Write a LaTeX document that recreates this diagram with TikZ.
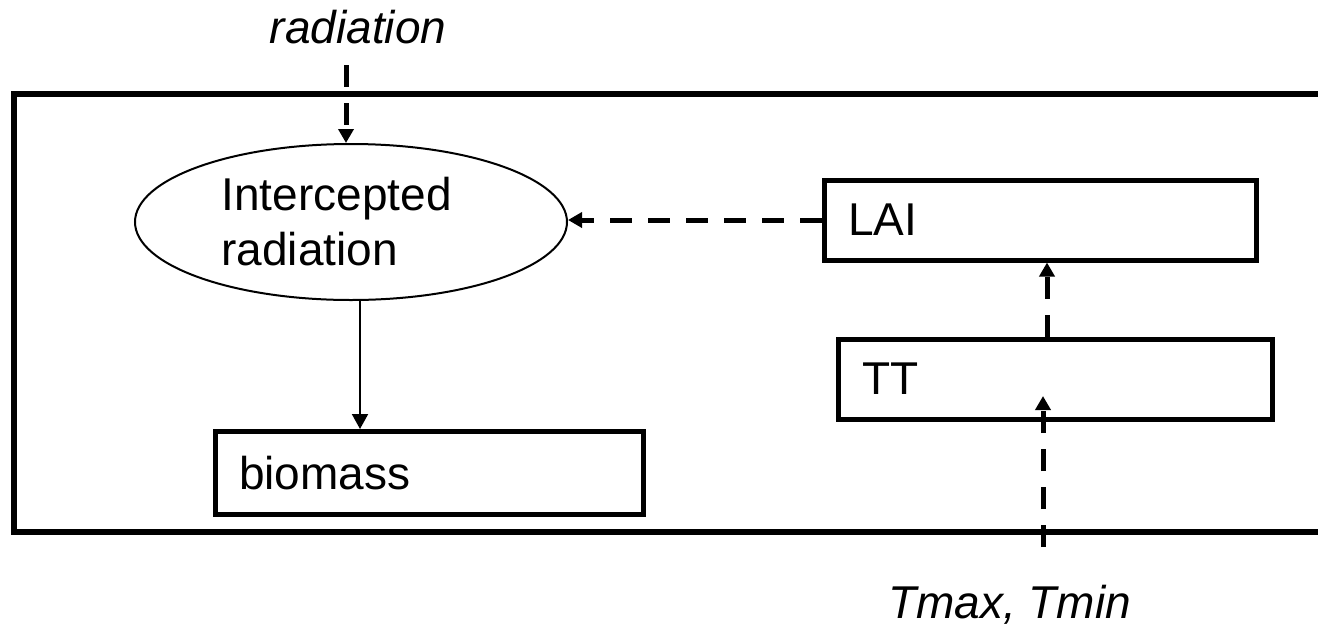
\documentclass[tikz,border=0pt]{standalone}
\usepackage{fontspec}
\setmainfont{Liberation Sans}
\usetikzlibrary{arrows.meta,shapes.geometric}
\begin{document}
\begin{tikzpicture}[x=1pt,y=-1pt,
  bigfont/.style={font=\fontsize{46}{55}\selectfont},
  boxnode/.style={draw, line width=5pt, inner xsep=24pt, inner ysep=0pt, minimum height=80pt, align=left, bigfont},
  dasharrow/.style={line width=5pt, dash pattern=on 22pt off 16pt, -{Triangle[width=15pt,length=14pt]}},
  thinarrow/.style={line width=2pt, -{Triangle[width=16pt,length=15pt]}}
]
\useasboundingbox (0,0) rectangle (1318,630);
\clip (0,0) rectangle (1318,630);
\fill[white] (0,0) rectangle (1318,630);
% outer frame
\draw[line width=6pt] (14,94) rectangle (1360,532);
% nodes
\node[ellipse, draw, line width=2pt, minimum width=432pt, minimum height=156pt, inner sep=0pt, text width=259pt, align=left, bigfont] (ell) at (351,222) {Intercepted\\radiation};
\node[boxnode, text width=384pt] (lai) at (1040,220) {LAI};
\node[boxnode, text width=386pt] (tt) at (1055,379) {TT};
\node[boxnode, text width=380pt, minimum height=83pt] (bio) at (429,473) {biomass};
\node[bigfont, anchor=base, inner sep=0pt] (rad) at (358,43) {\itshape radiation};
\node[bigfont, anchor=base west, inner sep=0pt] (tm) at (888,618) {\itshape Tmax, Tmin};
% coordinates
\coordinate (radin) at (346,65);
\coordinate (cx1) at (1047,0);
\coordinate (cx2) at (360,0);
\coordinate (tstart) at (1043,547);
\coordinate (ttip) at (1043,396);
% connectors
\draw[dasharrow] (radin) -- (radin |- ell.north);
\draw[dasharrow] (lai.west) -- (lai.west -| ell.east);
\draw[dasharrow] (tt.north -| cx1) -- (lai.south -| cx1);
\draw[dasharrow] (tstart) -- (ttip);
\draw[thinarrow] (ell.south -| cx2) -- (bio.north -| cx2);
\end{tikzpicture}
\end{document}
